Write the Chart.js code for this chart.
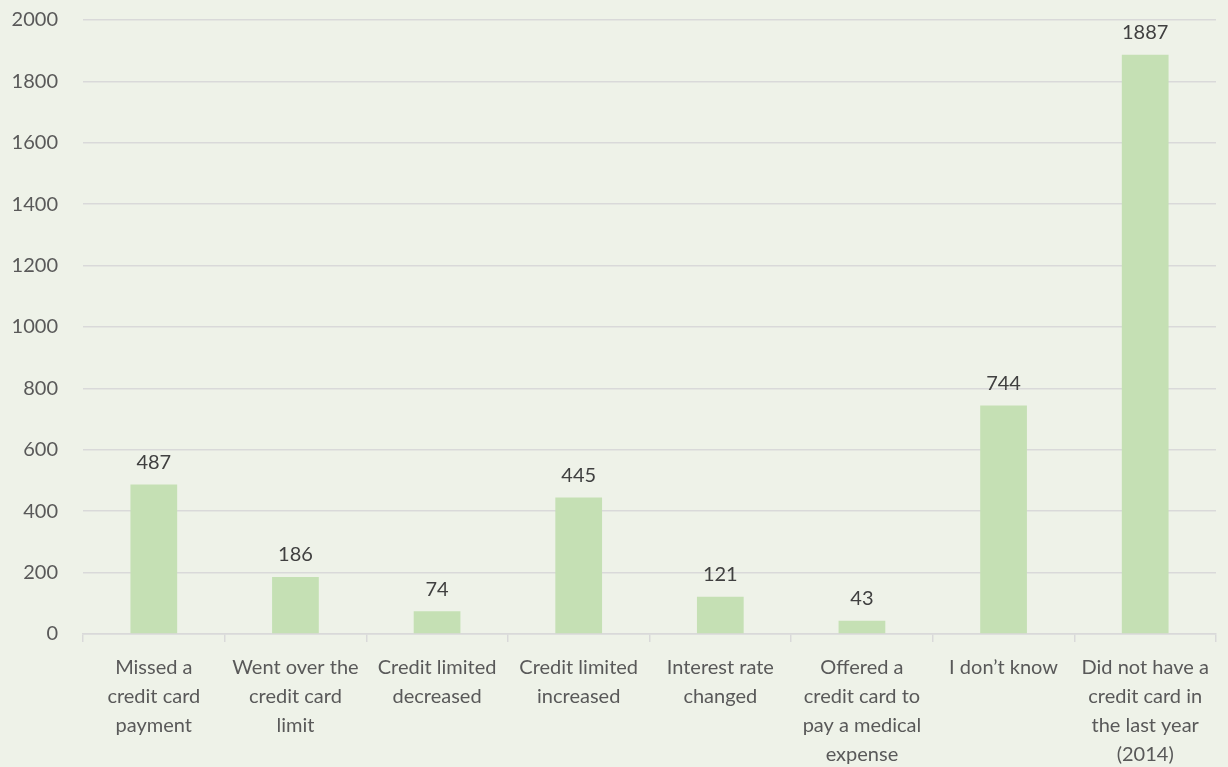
<!DOCTYPE html>
<html>
<head>
<meta charset="utf-8">
<script src="https://cdn.jsdelivr.net/npm/chart.js@4"></script>
<style>
  html, body { margin: 0; padding: 0; background: #eef2e8; }
  #wrap { width: 1228px; height: 767px; position: relative; }
</style>
</head>
<body>
<div id="wrap"><canvas id="data-chart"></canvas></div>
<script>
const categories = [
  ['Missed a', 'credit card', 'payment'],
  ['Went over the', 'credit card', 'limit'],
  ['Credit limited', 'decreased'],
  ['Credit limited', 'increased'],
  ['Interest rate', 'changed'],
  ['Offered a', 'credit card to', 'pay a medical', 'expense'],
  'I don\u2019t know',
  ['Did not have a', 'credit card in', 'the last year', '(2014)']
];
const counts = [487, 186, 74, 445, 121, 43, 744, 1887];
const yTicks = [0, 200, 400, 600, 800, 1000, 1200, 1400, 1600, 1800, 2000];

const ctx = document.getElementById('data-chart');
const FONT = 'Lato, "Open Sans", sans-serif';

// draw value above each bar
const valueLabels = {
  id: 'valueLabels',
  afterDatasetsDraw(chart) {
    const c = chart.ctx;
    const meta = chart.getDatasetMeta(0);
    c.save();
    c.font = '20px ' + FONT;
    c.fillStyle = '#404040';
    c.textAlign = 'center';
    c.textBaseline = 'bottom';
    meta.data.forEach((bar, i) => {
      c.fillText(String(counts[i]), bar.x, bar.y - 12);
    });
    c.restore();
  }
};

var curChart = new Chart(ctx, {
  type: 'bar',
  data: {
    labels: categories,
    datasets: [{
      data: counts,
      backgroundColor: '#c5e0b4',
      borderWidth: 0,
      barPercentage: 0.33,
      categoryPercentage: 1
    }]
  },
  options: {
    responsive: true,
    maintainAspectRatio: false,
    animation: false,
    layout: { padding: { top: 20, right: 12, left: 0, bottom: 0 } },
    plugins: { legend: { display: false }, tooltip: { enabled: false } },
    scales: {
      y: {
        min: 0,
        max: 2000,
        afterBuildTicks: (scale) => { scale.ticks = yTicks.map(v => ({ value: v })); },
        afterFit: (scale) => { scale.width = 83; scale.paddingTop = 0; },
        border: { display: false },
        grid: { color: '#d9d9d9', lineWidth: 1.5, drawTicks: false },
        ticks: { color: '#595959', font: { family: FONT, size: 20 }, padding: 25, callback: (v) => String(v) }
      },
      x: {
        afterFit: (scale) => { scale.height = 133; },
        border: { display: true, color: '#d9d9d9', width: 1.5 },
        grid: { drawOnChartArea: false, color: '#d9d9d9', lineWidth: 1.5, tickLength: 8, offset: true },
        ticks: { color: '#595959', font: { family: FONT, size: 20, lineHeight: 1.45 }, padding: 11, maxRotation: 0, autoSkip: false }
      }
    }
  },
  plugins: [valueLabels]
});
</script>
</body>
</html>
